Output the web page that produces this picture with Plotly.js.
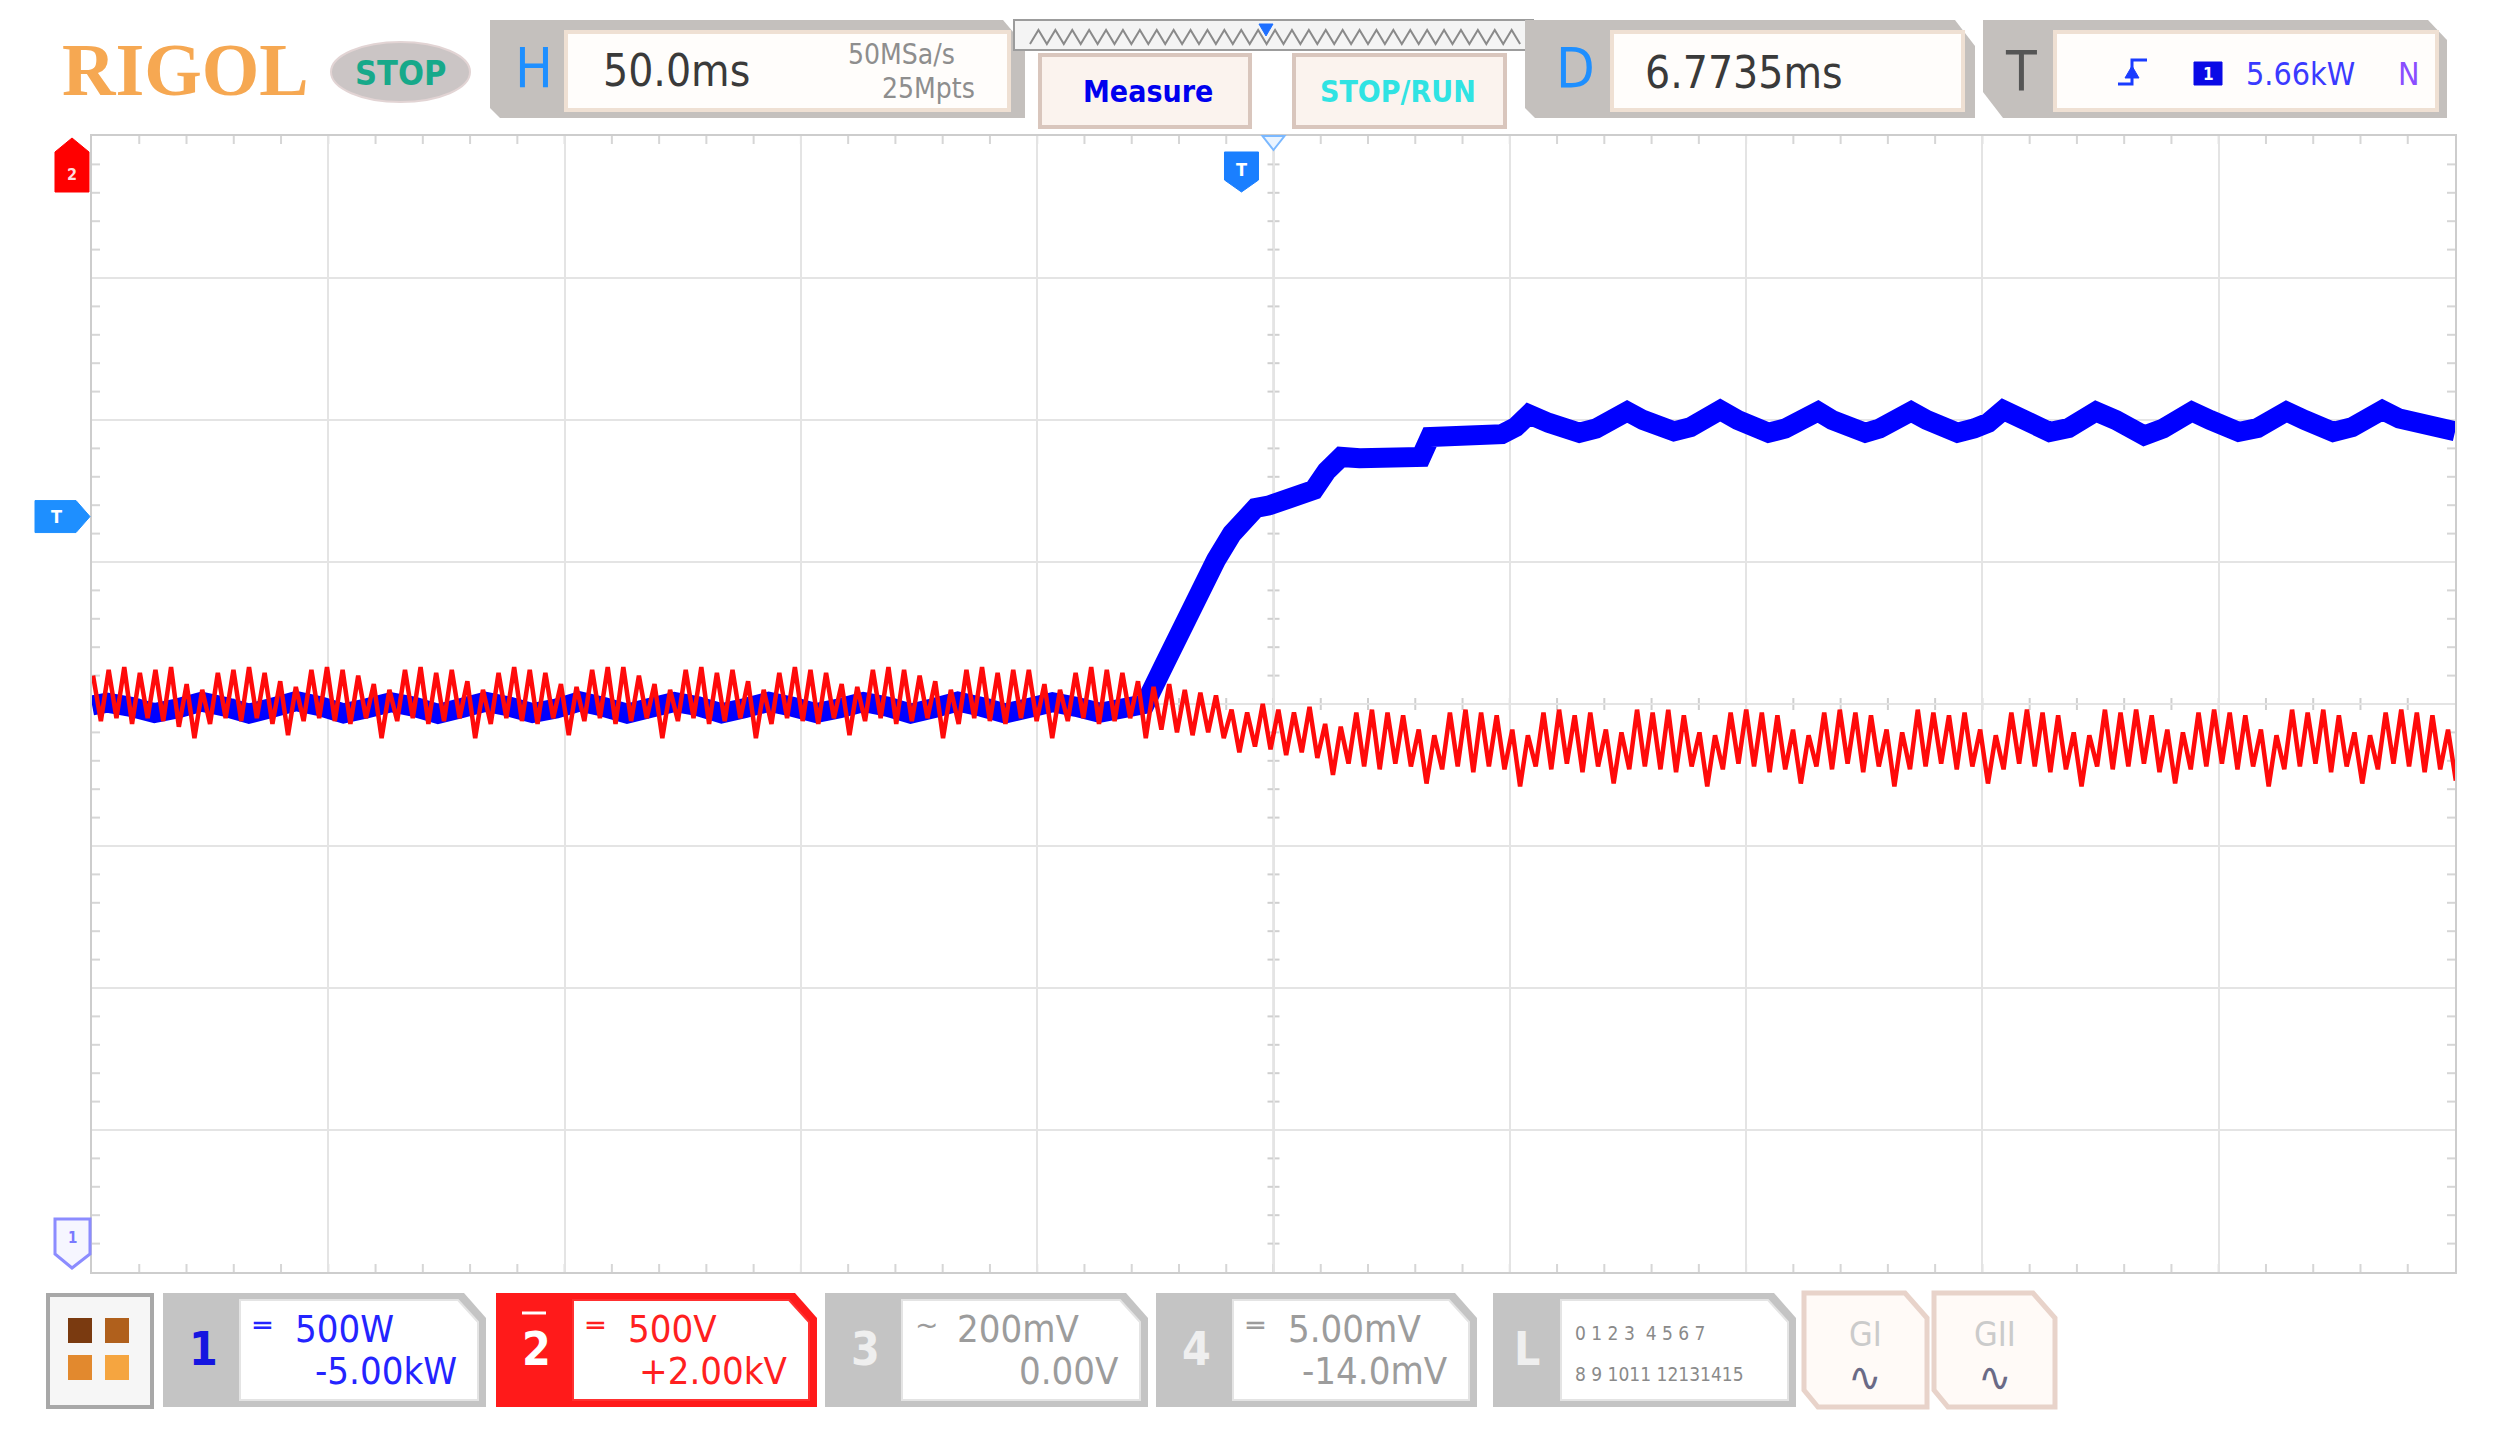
<!DOCTYPE html>
<html><head><meta charset="utf-8">
<script src="https://cdn.plot.ly/plotly-3.0.1.min.js"></script>
<style>html,body{margin:0;padding:0;background:#fff;overflow:hidden}#chart{width:2499px;height:1437px}</style>
</head><body><div id="chart"></div>
<script>
// ---------------- DATA ----------------
const timebaseMsPerDiv = 50;
const delayMs = 6.7735;
const ch1ScaleKW = 0.5, ch1OffsetKW = -5.0;
const ch2ScaleKV = 0.5, ch2OffsetKV = 2.0;
const triggerLevelKW = 5.66;

// CH1 (power, kW) read along the trace centre
const blueTimeMs = [-243.2,-240,-235,-230,-225,-220,-215,-210,-205,-200,-195,-190,-185,-180,-175,-170,-165,-160,-155,-150,-145,-140,-135,-130,-125,-120,-115,-110,-105,-100,-95,-90,-85,-80,-75,-70,-65,-60,-55,-50,-45,-40,-35,-30,-25,-20.4,-16,-13,-9,-5.4,-2,1.2,3,6,9,12,15.3,18,21.1,25,30,34,38,39.9,44,48,52,55.1,58,60.8,65,68,71.5,75,78,81.6,85,88,91.5,95,98,101.3,105,108,111.5,115,118,122,125,128,132,135,138,141.7,145,148,151.5,155,158,161.2,165,168,171,175,178,180.8,185,188,191,195,198,201.1,205,208,211,215,218,221.1,225,228,231,235,238,241.4,245,249,253,256.8];
const bluePowerKW = [4.995,5.005,4.990,4.968,4.985,5.008,4.990,4.966,4.987,5.010,4.992,4.967,4.985,5.006,4.990,4.965,4.986,5.008,4.991,4.968,4.984,5.009,4.990,4.966,4.987,5.007,4.992,4.967,4.986,5.008,4.990,4.968,4.985,5.007,4.991,4.966,4.986,5.009,4.990,4.967,4.986,5.006,4.990,4.969,4.985,5.000,5.150,5.260,5.390,5.507,5.600,5.673,5.690,5.700,5.720,5.730,5.754,5.820,5.870,5.865,5.870,5.875,5.870,5.940,5.945,5.950,5.945,5.950,5.975,6.020,5.990,5.975,5.955,5.970,5.995,6.030,6.000,5.980,5.960,5.975,6.000,6.035,6.000,5.975,5.955,5.970,5.990,6.030,6.000,5.980,5.955,5.970,5.995,6.030,6.000,5.975,5.955,5.970,5.990,6.035,6.000,5.980,5.958,5.972,5.995,6.030,6.000,5.975,5.945,5.970,5.995,6.030,6.000,5.980,5.958,5.972,5.995,6.030,6.000,5.980,5.958,5.975,5.998,6.035,6.005,5.985,5.970,5.960];

// CH2 (voltage, kV): one peak and one trough per ripple cycle
const redStartMs = -243.0;
const redCycleMs = 3.3;
const redPeakKV = [-1.90,-1.88,-1.87,-1.89,-1.88,-1.87,-1.93,-1.95,-1.89,-1.88,
 -1.87,-1.89,-1.92,-1.94,-1.88,-1.87,-1.88,-1.90,-1.93,-1.95,
 -1.88,-1.87,-1.89,-1.88,-1.92,-1.95,-1.89,-1.87,-1.88,-1.89,
 -1.93,-1.94,-1.88,-1.87,-1.87,-1.90,-1.93,-1.95,-1.88,-1.87,
 -1.89,-1.88,-1.92,-1.95,-1.89,-1.87,-1.88,-1.89,-1.93,-1.94,
 -1.88,-1.87,-1.88,-1.90,-1.92,-1.95,-1.88,-1.87,-1.89,-1.88,
 -1.88,-1.93,-1.95,-1.89,-1.87,-1.88,-1.89,-1.92,-1.94,-1.93,
 -1.95,-1.96,-1.97,-2.02,-2.03,-2.00,-2.02,-2.03,-2.01,-2.07,
 -2.08,-2.03,-2.02,-2.03,-2.04,-2.09,-2.11,-2.03,-2.02,-2.03,
 -2.04,-2.09,-2.11,-2.03,-2.02,-2.04,-2.03,-2.09,-2.10,-2.02,
 -2.03,-2.02,-2.04,-2.10,-2.11,-2.03,-2.02,-2.03,-2.04,-2.09,
 -2.11,-2.03,-2.02,-2.03,-2.04,-2.09,-2.10,-2.02,-2.03,-2.04,
 -2.03,-2.09,-2.11,-2.03,-2.02,-2.03,-2.04,-2.10,-2.11,-2.02,
 -2.03,-2.02,-2.04,-2.09,-2.10,-2.03,-2.02,-2.03,-2.04,-2.09,
 -2.11,-2.02,-2.03,-2.02,-2.04,-2.10,-2.11,-2.03,-2.02,-2.03,
 -2.04,-2.09];
const redTroughKV = [-2.06,-2.05,-2.07,-2.05,-2.06,-2.08,-2.12,-2.07,-2.05,-2.06,
 -2.05,-2.07,-2.11,-2.06,-2.05,-2.06,-2.07,-2.05,-2.12,-2.06,
 -2.05,-2.07,-2.06,-2.05,-2.12,-2.07,-2.05,-2.06,-2.07,-2.05,
 -2.11,-2.06,-2.05,-2.07,-2.06,-2.05,-2.12,-2.06,-2.05,-2.07,
 -2.06,-2.05,-2.12,-2.07,-2.05,-2.06,-2.07,-2.05,-2.11,-2.06,
 -2.05,-2.07,-2.06,-2.05,-2.12,-2.07,-2.05,-2.06,-2.07,-2.05,
 -2.06,-2.12,-2.06,-2.05,-2.07,-2.06,-2.05,-2.12,-2.09,-2.10,
 -2.11,-2.10,-2.12,-2.17,-2.15,-2.16,-2.18,-2.17,-2.19,-2.25,
 -2.21,-2.22,-2.23,-2.21,-2.22,-2.28,-2.23,-2.22,-2.24,-2.22,
 -2.23,-2.29,-2.22,-2.23,-2.21,-2.24,-2.22,-2.28,-2.23,-2.22,
 -2.23,-2.24,-2.22,-2.29,-2.23,-2.21,-2.22,-2.24,-2.23,-2.28,
 -2.22,-2.23,-2.21,-2.24,-2.22,-2.29,-2.23,-2.22,-2.21,-2.23,
 -2.22,-2.28,-2.23,-2.21,-2.22,-2.24,-2.23,-2.29,-2.22,-2.23,
 -2.22,-2.21,-2.24,-2.28,-2.23,-2.22,-2.21,-2.23,-2.22,-2.29,
 -2.23,-2.22,-2.21,-2.24,-2.22,-2.28,-2.23,-2.21,-2.22,-2.24,
 -2.23,-2.27];

// UI labels
const topLabels = {brand:'RIGOL', state:'STOP', hScale:'50.0ms', sampleRate:'50MSa/s', memDepth:'25Mpts', measure:'Measure', stopRun:'STOP/RUN', delay:'6.7735ms', trigLevel:'5.66kW', trigMode:'N'};
const chLabels = [
  {n:'1', cpl:'═', scale:'500W',  offset:'-5.00kW', color:'#2424ff', numColor:'#1515e0'},
  {n:'2', cpl:'═', scale:'500V',  offset:'+2.00kV', color:'#ff2020', numColor:'#ffffff'},
  {n:'3', cpl:'~', scale:'200mV', offset:'0.00V',   color:'#9c9c9c', numColor:'#efefef'},
  {n:'4', cpl:'═', scale:'5.00mV',offset:'-14.0mV', color:'#9c9c9c', numColor:'#efefef'}
];
const logicRows = ['0 1 2 3  4 5 6 7', '8 9 1011 12131415'];

// ---------------- BUILD ----------------
const xMin = -5*timebaseMsPerDiv + delayMs, xMax = 5*timebaseMsPerDiv + delayMs;
const y1c = -ch1OffsetKW, y2c = -ch2OffsetKV;
const redX = [], redY = [];
for (let i = 0; i < redPeakKV.length; i++) {
  redX.push(redStartMs + i*redCycleMs); redY.push(redPeakKV[i]);
  redX.push(redStartMs + (i+0.5)*redCycleMs); redY.push(redTroughKV[i]);
}

const PL=92, PR=2455, PT=136, PB=1272;
const fx = x => (x-PL)/(PR-PL);
const fy = y => (PB-y)/(PB-PT);
const NARROW = "'Liberation Sans Narrow','DejaVu Sans Condensed','Roboto Condensed','Arial Narrow',Roboto,sans-serif";
const shapes=[], annots=[];
function pathStr(pts, close){ return 'M'+pts.map(p=>fx(p[0]).toFixed(5)+','+fy(p[1]).toFixed(5)).join('L')+(close?'Z':''); }
function poly(pts, fill, line, lw, layer){ shapes.push({type:'path', xref:'paper', yref:'paper', path:pathStr(pts,true), fillcolor:fill||'rgba(0,0,0,0)', line:{color:line||'rgba(0,0,0,0)', width:lw||0}, layer:layer||'above'}); }
function pline(pts, color, w){ shapes.push({type:'path', xref:'paper', yref:'paper', path:pathStr(pts,false), line:{color, width:w}, layer:'above'}); }
function box(x0,y0,x1,y1,fill,line,lw){ poly([[x0,y0],[x1,y0],[x1,y1],[x0,y1]],fill,line,lw); }
function seg(x0,y0,x1,y1,color,w,layer){ shapes.push({type:'line', xref:'paper', yref:'paper', x0:fx(x0), y0:fy(y0), x1:fx(x1), y1:fy(y1), line:{color, width:w}, layer:layer||'above'}); }
function txt(x,y,s,size,color,o){ o=o||{}; annots.push({xref:'paper', yref:'paper', x:fx(x), y:fy(y), text:o.bold?'<b>'+s+'</b>':s, showarrow:false, xanchor:o.anchor||'center', yanchor:'middle', font:{family:o.family||NARROW, size, color}}); }

// graticule ticks
const cx = (PL+PR)/2, cy = (PT+PB)/2;
for (let k=1;k<50;k++){ const x = PL + k*(PR-PL)/50;
  seg(x,cy-6,x,cy+6,'#cfcfcf',2,'below'); seg(x,PT,x,PT+8,'#d6d6d6',2,'below'); seg(x,PB-8,x,PB,'#d6d6d6',2,'below'); }
for (let k=1;k<40;k++){ const y = PT + k*(PB-PT)/40;
  seg(cx-6,y,cx+6,y,'#cfcfcf',2,'below'); seg(PL,y,PL+8,y,'#d6d6d6',2,'below'); seg(PR-8,y,PR,y,'#d6d6d6',2,'below'); }
seg(PL,cy,PR,cy,'#c9c9c9',2,'below'); seg(cx,PT,cx,PB,'#d2d2d2',2,'below');

// ----- top bar -----
txt(185,70,topLabels.brand,74,'#f6a852',{family:"'Liberation Serif','DejaVu Serif',serif",bold:true});
shapes.push({type:'circle',xref:'paper',yref:'paper',x0:fx(331),x1:fx(470),y0:fy(102),y1:fy(42),fillcolor:'#cbc5c5',line:{color:'#e2d4d4',width:2},layer:'above'});
txt(400,73,topLabels.state,34,'#17a98a',{bold:true});
// H box
poly([[490,20],[1003,20],[1025,46],[1025,118],[500,118],[490,108]],'#c4c0bd');
box(566,32,1009,110,'#fffdfb','#efe0d3',4);
txt(534,68,'H',56,'#1e8fff');
txt(676,70,topLabels.hScale,44,'#3a3a3a');
txt(957,55,topLabels.sampleRate,28,'#8e8e8e',{anchor:'right'});
txt(977,88,topLabels.memDepth,28,'#8e8e8e',{anchor:'right'});
// memory bar
box(1014,20,1533,50,'#f4f4f4','#9c9c9c',2);
const zz=[]; for(let k=0;k<=58;k++){ zz.push([1030+k*8.45, (k%2===0)?44:30]); }
pline(zz,'#8a8a8a',2);
poly([[1259,24],[1273,24],[1266,36]],'#1e6fff','#1e6fff',1);
// buttons
box(1040,55,1250,127,'#fbf3ee','#d9c6bd',4);
txt(1148,91,topLabels.measure,30,'#0000ee',{bold:true});
box(1294,55,1505,127,'#fbf3ee','#d9c6bd',4);
txt(1398,91,topLabels.stopRun,30,'#30e3e3',{bold:true});
// D box
poly([[1525,20],[1955,20],[1975,46],[1975,118],[1535,118],[1525,108]],'#c4c0bd');
box(1612,32,1963,110,'#fffdfb','#efe0d3',4);
txt(1575,68,'D',56,'#1e8fff');
txt(1744,72,topLabels.delay,44,'#3a3a3a');
// T box
poly([[1983,20],[2428,20],[2447,40],[2447,118],[2003,118],[1983,92]],'#c4c0bd');
box(2055,32,2437,110,'#fffdfb','#efe0d3',4);
txt(2021,70,'T',56,'#555555');
pline([[2118,84],[2132,84],[2132,60],[2147,60]],'#1a3cff',3);
poly([[2125,78],[2139,78],[2132,66]],'#1a3cff','#1a3cff',1);
box(2194,62,2222,85,'#0a0ae6','#0a0ae6',1);
txt(2208,74,'1',17,'#ffffff',{bold:true});
txt(2300,74,topLabels.trigLevel,32,'#3a3aff');
txt(2409,74,topLabels.trigMode,32,'#8a4dff');

// ----- bottom bar -----
box(48,1295,152,1407,'#f6f6f6','#a8a8a8',4);
box(68,1318,92,1343,'#7a3a10'); box(105,1318,129,1343,'#b0601c');
box(68,1355,92,1380,'#e2892e'); box(105,1355,129,1380,'#f5a540');
const chBoxes = [[163,486],[496,817],[825,1148],[1156,1477]];
chBoxes.forEach((b,i)=>{
  const [x0,x1]=b, c=chLabels[i], red = i===1;
  poly([[x0,1293],[x1-22,1293],[x1,1318],[x1,1407],[x0,1407]], red?'#ff1a1a':'#c4c4c4');
  poly([[x0+77,1300],[x1-28,1300],[x1-8,1322],[x1-8,1400],[x0+77,1400]],'#ffffff', red?'#ff3030':'#e4e4e4',2);
  txt(x0+40,1349,c.n,46,c.numColor,{bold:true});
  if(red) seg(x0+26,1313,x0+50,1313,'#ffffff',3);
  txt(x0+88,1325,c.cpl,28,c.color,{anchor:'left',family:"'DejaVu Sans',sans-serif"});
  txt(x0+130,1329,c.scale,38,c.color,{anchor:'left'});
  txt(x1-27,1371,c.offset,38,c.color,{anchor:'right'});
});
// logic box
poly([[1493,1293],[1774,1293],[1796,1318],[1796,1407],[1493,1407]],'#c4c4c4');
poly([[1561,1300],[1768,1300],[1788,1322],[1788,1400],[1561,1400]],'#ffffff','#e4e4e4',2);
txt(1527,1349,'L',46,'#efefef',{bold:true});
txt(1573,1333,logicRows[0],19,'#8a8a8a',{anchor:'left'});
txt(1573,1374,logicRows[1],19,'#8a8a8a',{anchor:'left'});
// GI / GII
[[1804,1927,'GI'],[1934,2055,'GII']].forEach(g=>{
  poly([[g[0],1293],[g[1]-22,1293],[g[1],1318],[g[1],1407],[g[0]+14,1407],[g[0],1390]],'#fffaf7','#e8d3ca',5);
  const mx=(g[0]+g[1])/2;
  txt(mx,1334,g[2],34,'#cbcbcb');
  txt(mx,1377,'∿',40,'#6a6a86',{family:"'DejaVu Sans',sans-serif"});
});

// ----- markers -----
poly([[55,152],[72,138],[89,152],[89,192],[55,192]],'#ff0000','#ff0000',1);
txt(72,174,'2',16,'#ffdddd',{bold:true});
const trigY = PB - (triggerLevelKW - (y1c-4*ch1ScaleKW))/(8*ch1ScaleKW)*(PB-PT);
poly([[35,trigY-16],[76,trigY-16],[90,trigY],[76,trigY+16],[35,trigY+16]],'#1e8fff','#1e8fff',1);
txt(56,trigY,'T',18,'#ffffff',{bold:true});
poly([[55,1219],[90,1219],[90,1254],[72,1268],[55,1254]],'#f6f6ff','#8c8cff',3);
txt(72,1238,'1',15,'#7a7aff',{bold:true});
const trigX = PL + (0 - xMin)/(xMax-xMin)*(PR-PL);
poly([[trigX-17,152],[trigX+17,152],[trigX+17,180],[trigX,192],[trigX-17,180]],'#1a7fff','#1a7fff',1);
txt(trigX,169,'T',18,'#ffffff',{bold:true});
poly([[cx-11,136],[cx+11,136],[cx,150]],'#eaf4ff','#7ab8ff',2);

// ---------------- PLOT ----------------
const traces = [
  {x:blueTimeMs, y:bluePowerKW, type:'scatter', mode:'lines', xaxis:'x', yaxis:'y',
   line:{color:'#0000ff', width:20, shape:'linear'}, hoverinfo:'skip', name:'CH1'},
  {x:redX, y:redY, type:'scatter', mode:'lines', xaxis:'x', yaxis:'y2',
   line:{color:'#ff0a0a', width:4.5}, hoverinfo:'skip', name:'CH2'}
];
const ax = {showticklabels:false, ticks:'', zeroline:false, showline:true, mirror:true, linecolor:'#cdcdcd', linewidth:2, showgrid:true, gridcolor:'#e4e4e4', gridwidth:2, fixedrange:true};
const layout = {
  width:2499, height:1437, paper_bgcolor:'#ffffff', plot_bgcolor:'#ffffff', showlegend:false,
  margin:{l:PL, r:2499-PR, t:PT, b:1437-PB, pad:0},
  xaxis:Object.assign({}, ax, {range:[xMin,xMax], tick0:xMin, dtick:timebaseMsPerDiv}),
  yaxis:Object.assign({}, ax, {range:[y1c-4*ch1ScaleKW, y1c+4*ch1ScaleKW], tick0:y1c-4*ch1ScaleKW, dtick:ch1ScaleKW}),
  yaxis2:{overlaying:'y', range:[y2c-4*ch2ScaleKV, y2c+4*ch2ScaleKV], showgrid:false, showticklabels:false, zeroline:false, ticks:'', showline:false, fixedrange:true},
  shapes, annotations:annots
};
Plotly.newPlot('chart', traces, layout, {staticPlot:true, displayModeBar:false});
</script></body></html>
